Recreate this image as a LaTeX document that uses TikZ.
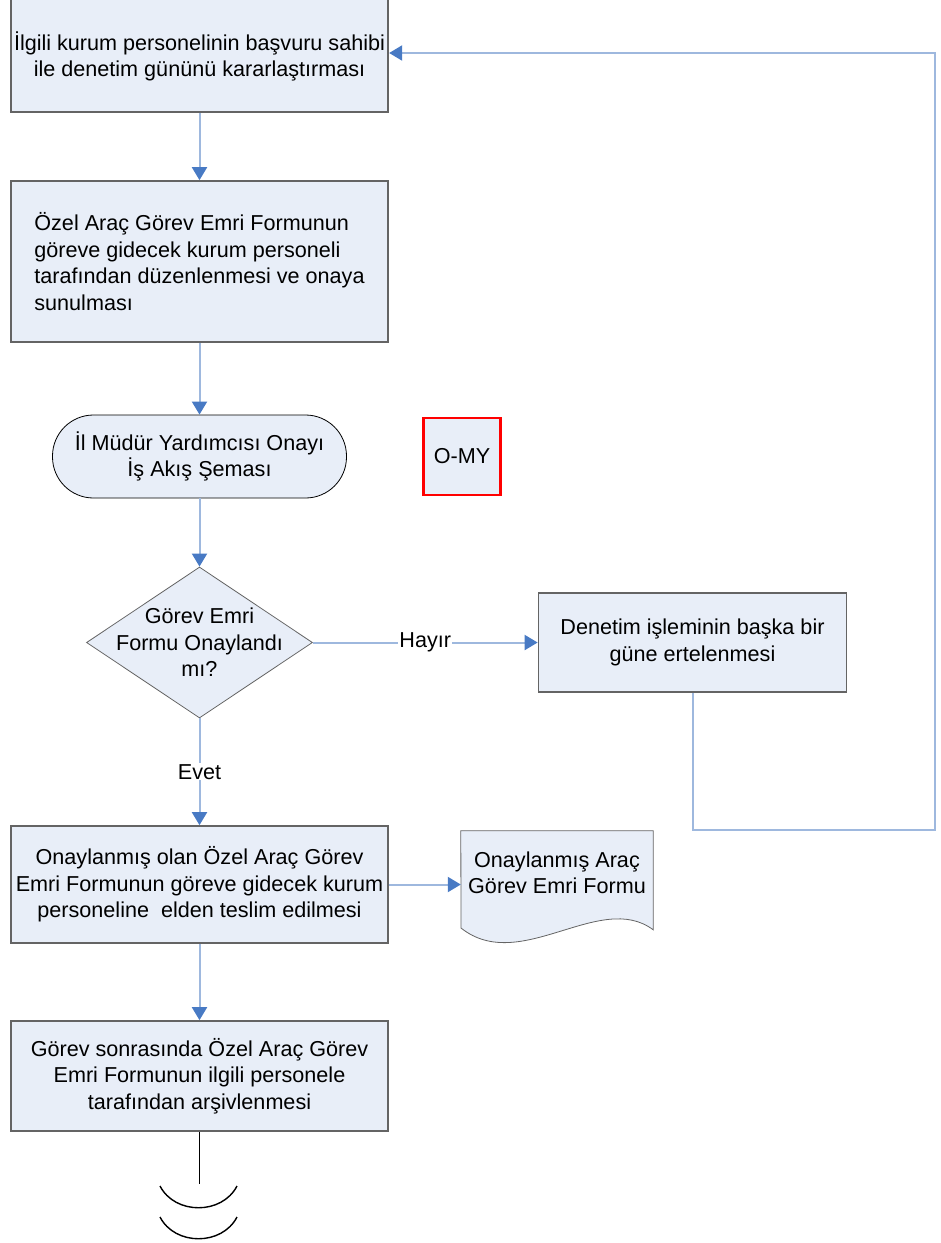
\documentclass[tikz,border=0pt]{standalone}
\usepackage{fontspec}
\setmainfont{Liberation Sans}
\usetikzlibrary{shapes,arrows.meta,backgrounds}

\definecolor{kutu}{RGB}{232,238,248}
\definecolor{kenar}{RGB}{100,100,100}
\definecolor{hat}{RGB}{158,184,222}
\definecolor{uc}{RGB}{72,122,196}

\begin{document}
\begin{tikzpicture}[x=1pt,y=-1pt,
      nodes={font=\fontsize{21.6}{26.5}\selectfont},
      islem/.style={rectangle,draw=kenar,line width=1.7pt,fill=kutu,minimum width=377pt,align=center},
      akis/.style={draw=hat,line width=2pt,-{Triangle[length=13pt,width=15pt,color=uc]}}]
    \useasboundingbox (0,0) rectangle (941,1243);

    \node[islem,minimum height=118pt](start) at (199.5,53)
        {\raisebox{-5pt}[\height][\depth]{\begin{tabular}{@{}c@{}}İlgili kurum personelinin başvuru sahibi\\
         ile denetim gününü kararlaştırması\end{tabular}}};
    \node[islem,below of=start,node distance=208.5pt,minimum height=161pt,align=left](form)
        {Özel Araç Görev Emri Formunun\\göreve gidecek kurum personeli\\tarafından düzenlenmesi ve onaya\\sunulması};
    \node[rectangle,rounded corners=41pt,draw=black,line width=0.8pt,fill=kutu,below of=form,node distance=195pt,
        minimum width=294pt,minimum height=83pt,align=center](onay){İl Müdür Yardımcısı Onayı\\İş Akış Şeması};
    \node[rectangle,draw=red,line width=2.5pt,fill=kutu,minimum size=77pt,right of=onay,node distance=262.5pt](omy){O-MY};
    \node[diamond,aspect=1.5,inner sep=-12pt,draw=kenar,line width=0.8pt,fill=kutu,below of=onay,node distance=186pt,
        minimum width=226pt,minimum height=151pt,align=center](karar){Görev Emri\\Formu Onaylandı\\mı?};
    \node[islem,right of=karar,node distance=493pt,minimum width=308pt,minimum height=99pt](ertele)
        {Denetim işleminin başka bir\\güne ertelenmesi};
    \node[islem,below of=karar,node distance=242pt,minimum height=117pt](teslim)
        {Onaylanmış olan Özel Araç Görev\\Emri Formunun göreve gidecek kurum\\personeline~ elden teslim edilmesi};
    \node[islem,below of=teslim,node distance=191.5pt,minimum height=110pt](arsiv)
        {Görev sonrasında Özel Araç Görev\\Emri Formunun ilgili personele\\tarafından arşivlenmesi};
    \node[minimum width=192pt,minimum height=84pt,align=center](belge) at (557,873)
        {Onaylanmış Araç\\Görev Emri Formu};
    \begin{scope}[on background layer]
        \draw[draw=kenar,line width=0.8pt,fill=kutu] (belge.north west) -- (belge.north east) -- ++(0,99)
            .. controls (600,890) and (520,975) .. (461,928) -- cycle;
    \end{scope}

    \draw[akis] (start) -- (form);
    \draw[akis] (form) -- (onay);
    \draw[akis] (onay) -- (karar);
    \draw[akis] (karar) -- node[fill=white,inner sep=1pt]{Hayır} (ertele);
    \draw[akis] (karar) -- node[fill=white,inner sep=1pt]{Evet} (teslim);
    \draw[akis] (teslim) -- (teslim -| belge.west);
    \draw[akis] (teslim) -- (arsiv);
    \coordinate (donus) at (935,830);
    \draw[akis] (ertele) |- (donus) |- (start);

    % kesik akis
    \coordinate (kes) at (199.5,1184);
    \draw[line width=1.4pt] (arsiv) -- (kes);
    \draw[line width=1.4pt] (160,1186) .. controls (175,1215) and (222,1215) .. (237,1186);
    \draw[line width=1.4pt] (160,1217) .. controls (175,1246) and (222,1246) .. (237,1217);
\end{tikzpicture}
\end{document}
